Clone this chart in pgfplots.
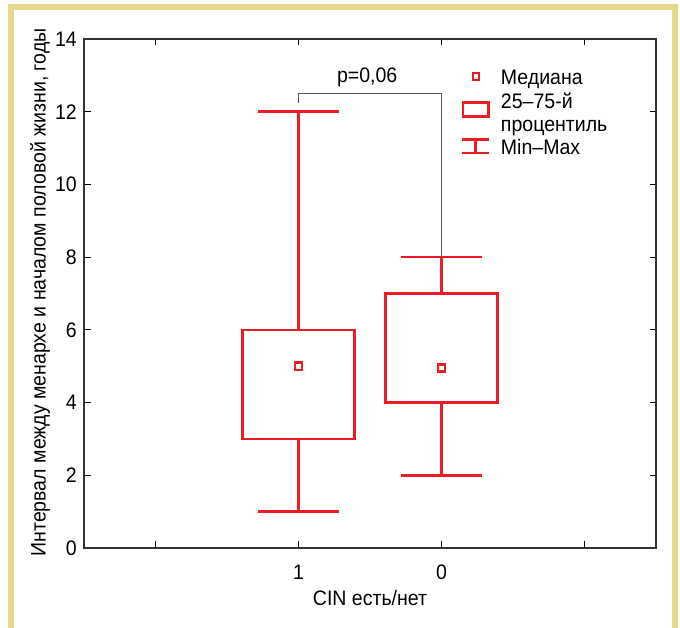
\documentclass[border=0pt]{standalone}
\usepackage{fontspec}
\setmainfont{Liberation Sans}[FakeStretch=0.93]
\usepackage{pgfplots}
\pgfplotsset{compat=1.18}
\usepgfplotslibrary{statistics}
\definecolor{cred}{HTML}{ED1C24}
\definecolor{framecol}{HTML}{E5D88A}
\definecolor{axgray}{HTML}{333333}
\definecolor{brgray}{HTML}{555555}
\newcommand{\bigf}{\fontsize{21}{25}\selectfont}
\begin{document}
\bigf
\begin{tikzpicture}
\path[use as bounding box] (-84pt,-80pt) rectangle (596pt,548pt);
\draw[framecol, line width=6pt] (-73pt,-80pt) -- (-73pt,540.5pt) -- (590.5pt,540.5pt) -- (590.5pt,-80pt);
\begin{axis}[
  at={(0pt,0pt)}, anchor=south west,
  scale only axis, width=572pt, height=509pt,
  xmin=0.5, xmax=4.5, ymin=0, ymax=14,
  xtick={1,2,3,4}, xticklabels={,1,0,},
  ytick={0,2,...,14},
  tick align=inside, major tick length=6.5pt,
  tick style={black, line width=1pt},
  axis line style={axgray, line width=1.5pt},
  /pgf/number format/assume math mode=true,
  tick label style={font=\bigf},
  label style={font=\bigf},
  xticklabel style={anchor=base, yshift=-32pt},
  xlabel={CIN есть/нет},
  xlabel style={at={(axis description cs:0.5,-0.112)}, anchor=base},
  ylabel={Интервал между менархе и началом половой жизни, годы},
  ylabel style={at={(axis description cs:-0.077,0.502)}, anchor=center},
  boxplot/draw direction=y,
  legend style={draw=none, fill=none, inner sep=0pt, outer sep=0pt,
    at={(axis description cs:0.6608,0.945)}, anchor=north west,
    row sep=0pt, column sep=9pt,
    cells={anchor=base west, text height=16pt, text depth=7.3pt, inner sep=0pt, font=\bigf}},
]
\addplot[forget plot, cred, line width=2.6pt, boxplot prepared={draw position=2,
  lower whisker=1, lower quartile=3, median=5, upper quartile=6, upper whisker=12,
  box extend=0.785, whisker extend=0.572, every median/.style={draw=none}}] coordinates {};
\addplot[forget plot, cred, line width=2.6pt, boxplot prepared={draw position=3,
  lower whisker=2, lower quartile=4, median=4.95, upper quartile=7, upper whisker=8,
  box extend=0.785, whisker extend=0.572, every median/.style={draw=none}}] coordinates {};
\addplot[forget plot, only marks, mark=square, mark size=3.7pt,
  mark options={cred, line width=2.5pt, solid}] coordinates {(2,5) (3,4.95)};
\addplot[forget plot, brgray, line width=1.4pt] coordinates {(2,12.25) (2,12.5) (3,12.5) (3,8)};
\node[anchor=base, font=\bigf] at (axis cs:2.48,12.79) {p=0,06};
\addlegendimage{legend image code/.code={
  \draw[overlay, cred, line width=2.4pt] (10.75pt,5.25pt) rectangle (17.25pt,11.75pt);
  \path[draw=none] (0pt,0pt) -- (28pt,0pt);}}
\addlegendentry{Медиана}
\addlegendimage{legend image code/.code={
  \draw[overlay, cred, line width=2.5pt] (1.25pt,-8.5pt) rectangle (26.75pt,5.5pt);
  \path[draw=none] (0pt,0pt) -- (28pt,0pt);}}
\addlegendentry{25–75-й}
\addlegendimage{legend image code/.code={\path[draw=none] (0pt,0pt) -- (28pt,0pt);}}
\addlegendentry{процентиль}
\addlegendimage{legend image code/.code={
  \draw[overlay, cred, line width=2.3pt] (0pt,14.8pt) -- (27pt,14.8pt)
    (13.5pt,14.8pt) -- (13.5pt,1.2pt) (0pt,1.2pt) -- (27pt,1.2pt);
  \path[draw=none] (0pt,0pt) -- (28pt,0pt);}}
\addlegendentry{Min–Max}
\end{axis}
\end{tikzpicture}
\end{document}
